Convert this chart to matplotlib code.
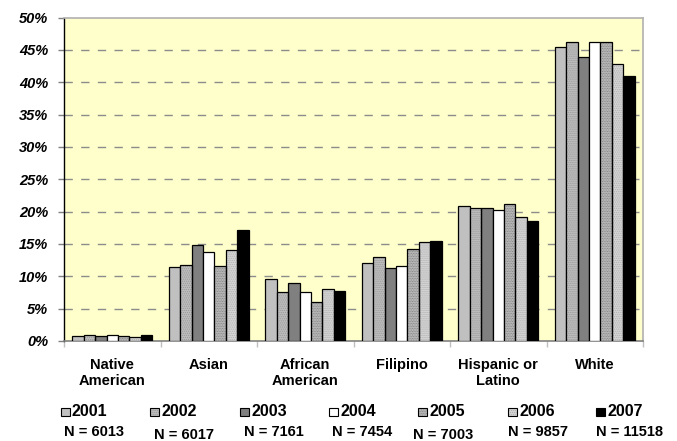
import matplotlib
matplotlib.use("Agg")
import matplotlib.pyplot as plt
import numpy as np
from matplotlib.patches import Rectangle

plt.rcParams['font.family'] = ['Liberation Sans', 'DejaVu Sans']

categories = ["Native\nAmerican", "Asian", "African\nAmerican", "Filipino", "Hispanic or\nLatino", "White"]
years = ["2001", "2002", "2003", "2004", "2005", "2006", "2007"]
n_labels = ["N = 6013", "N = 6017", "N = 7161", "N = 7454", "N = 7003", "N = 9857", "N = 11518"]

v2001 = [0.8, 11.4, 9.6, 12.0, 20.9, 45.4]
v2002 = [1.0, 11.8, 7.5, 13.0, 20.5, 46.2]
v2003 = [0.8, 14.9, 8.9, 11.3, 20.5, 43.9]
v2004 = [1.0, 13.7, 7.6, 11.6, 20.2, 46.2]
v2005 = [0.8, 11.6, 6.0, 14.2, 21.2, 46.2]
v2006 = [0.6, 14.0, 8.1, 15.3, 19.1, 42.8]
v2007 = [0.9, 17.2, 7.7, 15.5, 18.5, 40.9]
series = [v2001, v2002, v2003, v2004, v2005, v2006, v2007]

faces = ['#c0c0c0', '#bdbdbd', '#808080', '#ffffff', '#c4c4c4', '#d4d4d4', '#000000']
hatches = [None, '........', None, None, '..........', '........', None]
hatchcols = [None, '#999999', None, None, '#777777', '#b0b0b0', None]

W, H = 677, 441
fig = plt.figure(figsize=(W / 100, H / 100), dpi=100)
ax = fig.add_axes([64 / W, 1 - 341 / H, (643 - 64) / W, (341 - 17.5) / H])
ax.set_facecolor('#ffffcc')

x = np.arange(len(categories))
bw = 0.119
plt.rcParams['hatch.linewidth'] = 0.6
for i, vals in enumerate(series):
    pos = x + (i - 3) * bw
    if hatches[i]:
        ax.bar(pos, vals, bw, color=faces[i], hatch=hatches[i], edgecolor=hatchcols[i], linewidth=0, zorder=3)
        ax.bar(pos, vals, bw, facecolor='none', edgecolor='black', linewidth=0.9, zorder=4)
    else:
        ax.bar(pos, vals, bw, color=faces[i], edgecolor='black', linewidth=0.9, zorder=3)

ax.set_xlim(-0.5, len(categories) - 0.5)
ax.set_ylim(0, 50)
yt = np.arange(0, 51, 5)
ax.set_yticks(yt)
ax.set_yticklabels([f"{v}%" for v in yt], fontsize=10.5, fontweight='bold', fontstyle='italic')
ax.tick_params(axis='y', length=4.5, width=1, color='#808080', pad=7)
for v in yt[1:-1]:
    ax.axhline(v, color='#8c8c8c', lw=1, ls=(0, (6, 6)), zorder=1)

ax.set_xticks(x)
ax.set_xticklabels(categories, fontsize=10.5, fontweight='bold', linespacing=1.2)
ax.tick_params(axis='x', length=0, pad=12)
ax.set_xticks(np.arange(-0.5, len(categories) + 0.5, 1), minor=True)
ax.tick_params(axis='x', which='minor', length=4, width=1, color='#c0c0c0')

ax.spines['left'].set_color('black')
ax.spines['left'].set_linewidth(1)
ax.spines['bottom'].set_color('#808080')
ax.spines['bottom'].set_linewidth(1.2)
for s in ['top', 'right']:
    ax.spines[s].set_color('#b0b0b0')
    ax.spines[s].set_linewidth(1.2)

# legend
sq_x = [61, 150, 240, 329, 418, 508, 596]
n_cx = [94, 184, 274, 362, 443, 538, 629]
n_cy = [432, 435, 432, 432, 435, 432, 432]
for i in range(7):
    rx, ry, rw, rh = sq_x[i] / W, 1 - 415.5 / H, 9 / W, 8 / H
    if hatches[i]:
        fig.add_artist(Rectangle((rx, ry), rw, rh, transform=fig.transFigure,
                                 facecolor=faces[i], hatch=hatches[i], edgecolor=hatchcols[i], linewidth=0))
        fig.add_artist(Rectangle((rx, ry), rw, rh, transform=fig.transFigure,
                                 facecolor='none', edgecolor='black', linewidth=0.8))
    else:
        fig.add_artist(Rectangle((rx, ry), rw, rh, transform=fig.transFigure,
                                 facecolor=faces[i], edgecolor='black', linewidth=0.8))
    fig.text((sq_x[i] + 11) / W, 1 - 411.5 / H, years[i], fontsize=11.5, fontweight='bold',
             ha='left', va='center')
    fig.text(n_cx[i] / W, 1 - n_cy[i] / H, n_labels[i], fontsize=10.5, fontweight='bold',
             ha='center', va='center')

fig.savefig('out.png', dpi=100)
